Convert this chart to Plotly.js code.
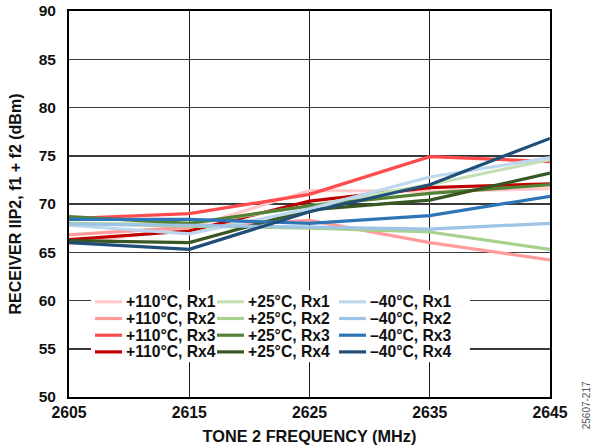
<!DOCTYPE html>
<html>
<head>
<meta charset="utf-8">
<script src="https://cdn.plot.ly/plotly-3.0.1.min.js"></script>
<style>html,body{margin:0;padding:0;background:#fff;}#chart{width:598px;height:448px;}</style>
</head>
<body>
<div id="chart"></div>
<script>
// ---- data ----
var freq = [2605, 2615, 2625, 2635, 2645];

var p110_rx1 = [65.9, 67.5, 71.4, 71.3, 71.6];
var p110_rx2 = [66.8, 67.6, 68.3, 66.0, 64.2];
var p110_rx3 = [68.5, 69.0, 71.0, 74.9, 74.4];
var p110_rx4 = [66.3, 67.2, 70.3, 71.7, 72.1];

var p25_rx1 = [68.0, 67.9, 69.8, 72.0, 74.6];
var p25_rx2 = [68.0, 67.7, 67.5, 67.1, 65.3];
var p25_rx3 = [68.7, 68.0, 69.8, 71.1, 72.0];
var p25_rx4 = [66.2, 66.0, 69.4, 70.4, 73.2];

var m40_rx1 = [67.8, 66.9, 69.5, 72.8, 74.8];
var m40_rx2 = [67.9, 67.8, 67.6, 67.4, 68.0];
var m40_rx3 = [68.4, 68.4, 68.0, 68.8, 70.8];
var m40_rx4 = [66.0, 65.3, 69.2, 72.0, 76.8];

var seriesNames = [
  '+110°C, Rx1', '+110°C, Rx2', '+110°C, Rx3', '+110°C, Rx4',
  '+25°C, Rx1', '+25°C, Rx2', '+25°C, Rx3', '+25°C, Rx4',
  '–40°C, Rx1', '–40°C, Rx2', '–40°C, Rx3', '–40°C, Rx4'
];
var seriesValues = [
  p110_rx1, p110_rx2, p110_rx3, p110_rx4,
  p25_rx1, p25_rx2, p25_rx3, p25_rx4,
  m40_rx1, m40_rx2, m40_rx3, m40_rx4
];
var seriesColors = [
  '#ffc9c9', '#ff9b9b', '#ff4b4b', '#c00000',
  '#c5e0b4', '#a9d18e', '#548235', '#385723',
  '#bdd7ee', '#9dc3e6', '#2e75b6', '#1f4e79'
];

var xTicks = [2605, 2615, 2625, 2635, 2645];
var yTicks = [50, 55, 60, 65, 70, 75, 80, 85, 90];

// ---- traces ----
var traces = seriesValues.map(function (vals, i) {
  return {
    x: freq, y: vals, type: 'scatter', mode: 'lines',
    name: seriesNames[i],
    line: {color: seriesColors[i], width: 3.2},
    showlegend: false, hoverinfo: 'skip'
  };
});

// ---- custom legend (3 columns x 4 rows) in paper coordinates ----
var W = 481, H = 386;
function px(x) { return (x - 69) / W; }
function py(y) { return (396.7 - y) / H; }
var shapes = [{
  type: 'rect', xref: 'paper', yref: 'paper', layer: 'above',
  x0: px(91), x1: px(470), y0: py(290), y1: py(362),
  fillcolor: '#ffffff', line: {width: 0}
}];
var annotations = [];
var colX = [95, 217, 339];
var rowY = [301.5, 318.2, 334.9, 351.6];
seriesNames.forEach(function (nm, i) {
  var c = Math.floor(i / 4), r = i % 4;
  shapes.push({
    type: 'line', xref: 'paper', yref: 'paper', layer: 'above',
    x0: px(colX[c]), x1: px(colX[c] + 27), y0: py(rowY[r]), y1: py(rowY[r]),
    line: {color: seriesColors[i], width: 3.2}
  });
  annotations.push({
    xref: 'paper', yref: 'paper', x: px(colX[c] + 29), y: py(rowY[r]),
    xanchor: 'left', yanchor: 'middle', showarrow: false,
    text: '<b>' + nm + '</b>',
    font: {family: 'Liberation Sans, Arial, sans-serif', size: 15.7, color: '#111'}
  });
});
annotations.push({
  xref: 'paper', yref: 'paper', x: px(586), y: py(405),
  xanchor: 'center', yanchor: 'middle', showarrow: false, textangle: -90,
  text: '25607-217',
  font: {family: 'Liberation Sans, Arial, sans-serif', size: 10, color: '#555'}
});

var layout = {
  width: 598, height: 448,
  margin: {l: 69, r: 48, t: 11, b: 51, pad: 0},
  paper_bgcolor: '#ffffff', plot_bgcolor: '#ffffff',
  showlegend: false,
  font: {family: 'Liberation Sans, Arial, sans-serif', size: 15, color: '#111'},
  xaxis: {
    range: [2605, 2645], tickvals: xTicks, ticktext: xTicks.map(String),
    showgrid: true, gridcolor: '#1a1a1a', gridwidth: 1.3,
    showline: true, linecolor: '#000', linewidth: 2, mirror: true,
    zeroline: false, ticks: '',
    tickfont: {size: 15.8, family: 'Liberation Sans, Arial, sans-serif', weight: 'bold'},
    title: {text: '<b>TONE 2 FREQUENCY (MHz)</b>', font: {size: 16.3}, standoff: 11}
  },
  yaxis: {
    range: [50, 90], tickvals: yTicks, ticktext: yTicks.map(String),
    showgrid: true, gridcolor: '#3a3a3a', gridwidth: 1.5,
    showline: true, linecolor: '#000', linewidth: 2, mirror: true,
    zeroline: false, ticks: '', ticklabelstandoff: 8,
    tickfont: {size: 15.5, family: 'Liberation Sans, Arial, sans-serif', weight: 'bold'},
    title: {text: '<b>RECEIVER IIP2, f1 + f2 (dBm)</b>', font: {size: 16}, standoff: 13}
  },
  shapes: shapes,
  annotations: annotations
};

Plotly.newPlot('chart', traces, layout, {staticPlot: true, displayModeBar: false});
</script>
</body>
</html>
